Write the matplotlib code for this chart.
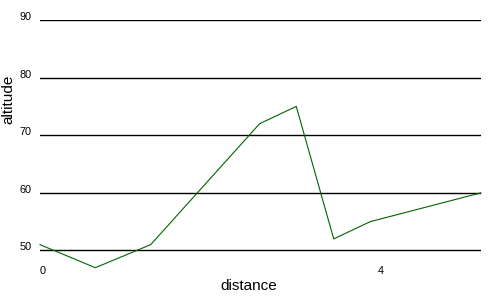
import matplotlib
matplotlib.use("Agg")
import matplotlib.pyplot as plt

distance = [0.0, 0.65, 1.30, 2.58, 3.01, 3.45, 3.88, 5.18]
altitude = [51.0, 47.0, 51.0, 72.0, 75.0, 52.0, 55.0, 60.0]
y_ticks = [50, 60, 70, 80, 90]
x_ticks = [0, 4]

plt.rcParams['font.family'] = ['Liberation Sans', 'DejaVu Sans']

fig = plt.figure(figsize=(5, 3), dpi=100)
ax = fig.add_axes([0.08, 0.1, 0.882, 0.8333])
ax.plot(distance, altitude, color='#006400', linewidth=0.8, clip_on=False, zorder=3)
ax.set_xlim(0, 5.18)
ax.set_ylim(46.6, 90)
ax.set_yticks(y_ticks)
ax.set_xticks(x_ticks)
ax.grid(axis='y', color='black', linewidth=1.0)
ax.grid(axis='x', visible=False)
for s in ax.spines.values():
    s.set_visible(False)
ax.tick_params(axis='both', length=0, labelsize=7.8, colors='black')
ax.tick_params(axis='y', pad=6)
ax.tick_params(axis='x', pad=-3)
for lab in ax.get_yticklabels():
    lab.set_verticalalignment('baseline')
xl = ax.get_xticklabels()
xl[0].set_horizontalalignment('left')

fig.text(0.498, 0.048, 'distance', fontsize=11, ha='center', va='center')
fig.text(0.016, 0.668, 'altitude', fontsize=11, ha='center', va='center', rotation=90)

fig.savefig('out.png', dpi=100)
